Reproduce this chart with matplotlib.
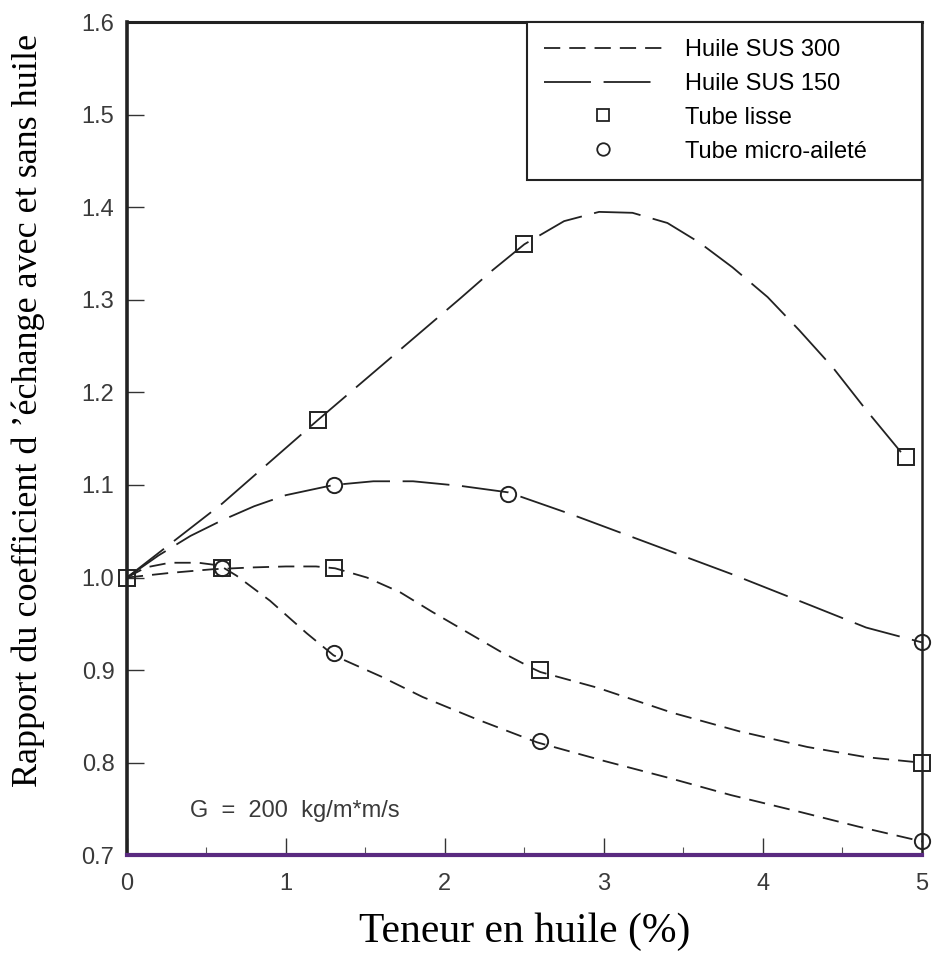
import numpy as np
import matplotlib
matplotlib.use('Agg')
import matplotlib.pyplot as plt
from matplotlib.lines import Line2D

# ---- data ----
# Huile SUS 150, tube lisse (curve + measured points)
a_x = [0, 0.3, 0.6, 0.9, 1.2, 1.5, 1.8, 2.1, 2.3, 2.5, 2.75, 2.97, 3.18, 3.4, 3.6,
       3.81, 4.03, 4.23, 4.44, 4.65, 4.9]
a_y = [1.0, 1.04, 1.08, 1.125, 1.17, 1.214, 1.258, 1.302, 1.332, 1.36, 1.385, 1.395,
       1.394, 1.383, 1.362, 1.335, 1.303, 1.267, 1.227, 1.181, 1.129]
a_px = [0, 1.2, 2.5, 4.9]
a_py = [1.0, 1.17, 1.36, 1.13]

# Huile SUS 150, tube micro-ailete
b_x = [0, 0.2, 0.4, 0.6, 0.8, 1.0, 1.3, 1.55, 1.8, 2.1, 2.4, 2.8, 3.3, 3.8, 4.3, 4.65, 5.0]
b_y = [1.0, 1.024, 1.045, 1.062, 1.077, 1.089, 1.10, 1.104, 1.104, 1.099, 1.092, 1.068,
       1.036, 1.004, 0.97, 0.946, 0.93]
b_px = [1.3, 2.4, 5.0]
b_py = [1.10, 1.09, 0.93]

# Huile SUS 300, tube lisse
c_x = [0, 0.27, 0.54, 0.8, 1.0, 1.19, 1.31, 1.51, 1.72, 1.92, 2.14, 2.35, 2.55, 2.6,
       2.96, 3.43, 3.85, 4.28, 4.65, 5.0]
c_y = [1.0, 1.005, 1.009, 1.011, 1.012, 1.012, 1.01, 1.0, 0.984, 0.963, 0.941, 0.92,
       0.902, 0.898, 0.881, 0.854, 0.834, 0.817, 0.806, 0.80]
c_px = [0.6, 1.3, 2.6, 5.0]
c_py = [1.01, 1.01, 0.90, 0.80]

# Huile SUS 300, tube micro-ailete
d_x = [0, 0.12, 0.27, 0.45, 0.585, 0.69, 0.9, 1.13, 1.3, 1.6, 1.86, 2.2, 2.58, 3.0,
       3.4, 3.8, 4.23, 4.6, 5.0]
d_y = [1.0, 1.011, 1.016, 1.016, 1.013, 1.002, 0.975, 0.94, 0.916, 0.893, 0.871, 0.847,
       0.822, 0.802, 0.784, 0.765, 0.747, 0.731, 0.715]
d_px = [0.6, 1.3, 2.6, 5.0]
d_py = [1.01, 0.918, 0.823, 0.715]

xticks = [0, 1, 2, 3, 4, 5]
yticks = [0.7, 0.8, 0.9, 1.0, 1.1, 1.2, 1.3, 1.4, 1.5, 1.6]

dash_300 = (0, (9, 5))
dash_150 = (0, (26, 7))

fig = plt.figure(figsize=(9.33, 9.61), dpi=100)
ax = fig.add_axes([0.136, 0.110, 0.852, 0.867])

lw = 1.3
ax.plot(a_x, a_y, color='#222222', lw=lw, linestyle=dash_150)
ax.plot(b_x, b_y, color='#222222', lw=lw, linestyle=dash_150)
ax.plot(c_x, c_y, color='#222222', lw=lw, linestyle=dash_300)
ax.plot(d_x, d_y, color='#222222', lw=lw, linestyle=dash_300)

msq = dict(marker='s', ms=11, mfc='none', mec='#222222', mew=1.4, ls='none', clip_on=False)
mci = dict(marker='o', ms=11, mfc='none', mec='#222222', mew=1.4, ls='none', clip_on=False)
ax.plot(a_px, a_py, **msq)
ax.plot(c_px, c_py, **msq)
ax.plot(b_px, b_py, **mci)
ax.plot(d_px, d_py, **mci)

ax.set_xlim(0, 5)
ax.set_ylim(0.7, 1.6)
ax.set_xticks(xticks)
ax.set_xticks([0.5, 1.5, 2.5, 3.5, 4.5], minor=True)
ax.set_yticks(yticks)
ax.set_xticklabels([str(v) for v in xticks])
ax.set_yticklabels(['%.1f' % v for v in yticks])
ax.tick_params(axis='both', direction='in', length=12, width=1.0, color='#333333',
               labelsize=17, labelcolor='#3a3a3a', pad=9)
ax.tick_params(axis='x', which='minor', direction='in', length=6, width=0.8, color='#555555')
ax.tick_params(axis='x', pad=13)
for lab in ax.get_xticklabels() + ax.get_yticklabels():
    lab.set_family(['Liberation Sans Narrow', 'Liberation Sans'])

for side in ['left', 'top', 'right']:
    ax.spines[side].set_color('#222222')
ax.spines['left'].set_linewidth(2.6)
ax.spines['top'].set_linewidth(2.2)
ax.spines['right'].set_linewidth(1.8)
ax.spines['bottom'].set_color('#5a2a80')
ax.spines['bottom'].set_linewidth(3)

ax.set_xlabel('Teneur en huile (%)', family='Liberation Serif', fontsize=30, labelpad=12)
ax.set_ylabel("Rapport du coefficient d \u2019\u00e9change avec et sans huile",
              family='Liberation Serif', fontsize=26)
ax.yaxis.set_label_coords(-0.103, 0.534)

ax.text(0.4, 0.748, 'G  =  200  kg/m*m/s', fontsize=17, color='#3a3a3a', va='center',
        family=['Liberation Sans Narrow', 'Liberation Sans'])

handles = [
    Line2D([], [], color='#222222', lw=lw, linestyle=dash_300),
    Line2D([], [], color='#222222', lw=lw, linestyle=dash_150),
    Line2D([], [], marker='s', ms=9, mfc='none', mec='#222222', mew=1.3, ls='none'),
    Line2D([], [], marker='o', ms=9, mfc='none', mec='#222222', mew=1.3, ls='none'),
]
labels = ['Huile SUS 300', 'Huile SUS 150', 'Tube lisse', 'Tube micro-ailet\u00e9']
leg = ax.legend(handles, labels, loc='upper right', bbox_to_anchor=(0.503, 0.0, 0.497, 1.0),
                mode='expand', borderaxespad=0, fancybox=False, edgecolor='#222222',
                framealpha=1, handlelength=5.0, handletextpad=1.0, labelspacing=0.5,
                borderpad=0.72, prop={'family': 'Liberation Sans', 'size': 17})
leg.get_frame().set_linewidth(1.5)

fig.savefig('out.png', dpi=100, facecolor='white')
